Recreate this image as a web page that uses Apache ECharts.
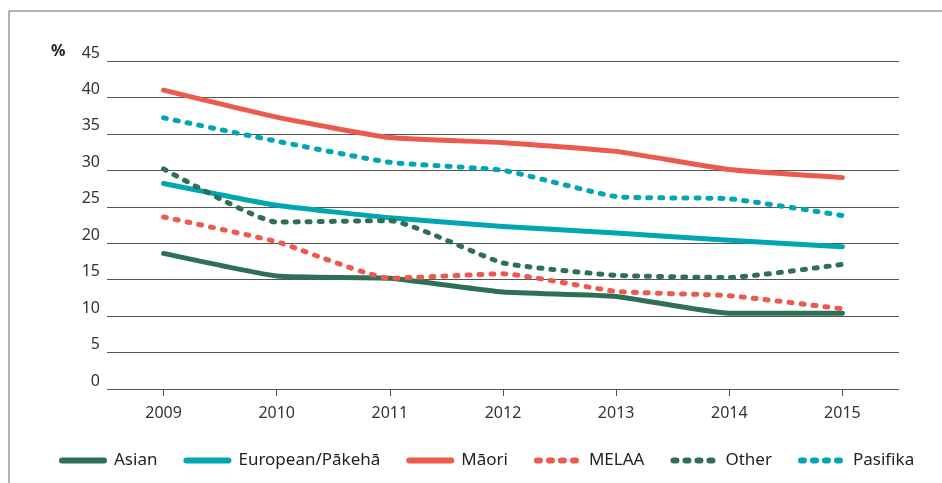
<!DOCTYPE html>
<html>
<head>
<meta charset="utf-8">
<script src="https://cdn.jsdelivr.net/npm/echarts@6/dist/echarts.min.js"></script>
<style>
  html, body { margin: 0; padding: 0; background: #fff; }
  #chart { width: 942px; height: 483px; }
</style>
</head>
<body>
<div id="chart"></div>
<script>
const years = ['2009', '2010', '2011', '2012', '2013', '2014', '2015'];
const asian = [18.6, 15.5, 15.2, 13.3, 12.7, 10.4, 10.4];
const european = [28.2, 25.2, 23.5, 22.3, 21.4, 20.4, 19.5];
const maori = [41.0, 37.3, 34.5, 33.8, 32.6, 30.1, 29.0];
const melaa = [23.6, 20.2, 15.2, 15.8, 13.4, 12.8, 11.0];
const other = [30.2, 22.9, 23.1, 17.3, 15.6, 15.3, 17.1];
const pasifika = [37.2, 34.0, 31.1, 30.0, 26.4, 26.1, 23.8];

const GREEN = '#2f6f56';
const TEAL = '#00a6b2';
const RED = '#ec5a4f';
const FONT = '"Noto Sans", sans-serif';

const chart = echarts.init(document.getElementById('chart'), null, { renderer: 'canvas' });

const mkLine = (name, data, color, dotted) => ({
  name,
  type: 'line',
  data,
  smooth: 0.15,
  symbol: 'none',
  showSymbol: false,
  lineStyle: {
    color,
    width: 5,
    type: dotted ? [3, 9] : 'solid',
    cap: 'round',
    join: 'round',
  },
  itemStyle: { color },
});

const option = {
  animation: false,
  backgroundColor: '#fff',
  textStyle: { fontFamily: FONT },
  grid: { left: 107, right: 43, top: 61, bottom: 94 },
  legend: {
    bottom: 9,
    left: 54,
    itemWidth: 42,
    itemHeight: 10,
    itemGap: 26,
    itemStyle: { opacity: 0 },
    lineStyle: { width: 6, cap: 'round' },
    textStyle: { fontFamily: FONT, fontSize: 17, color: '#222', padding: [0, 0, 0, 5] },
    data: ['Asian', 'European/Pākehā', 'Māori', 'MELAA', 'Other', 'Pasifika'],
  },
  xAxis: {
    type: 'category',
    data: years,
    boundaryGap: true,
    axisLine: { show: false },
    axisTick: { show: true, alignWithLabel: true, length: 7, lineStyle: { color: '#555' } },
    axisLabel: { color: '#333', fontSize: 16, fontFamily: FONT, margin: 16 },
  },
  yAxis: {
    type: 'value',
    min: 0,
    max: 45,
    interval: 5,
    axisLine: { show: false },
    axisTick: { show: false },
    axisLabel: { color: '#333', fontSize: 16, fontFamily: FONT, margin: 7, verticalAlign: 'bottom' },
    splitLine: { lineStyle: { color: '#555', width: 1 } },
  },
  graphic: [
    {
      type: 'text',
      left: 51,
      top: 43,
      style: { text: '%', font: 'bold 16px ' + FONT, fill: '#222' },
    },
    {
      type: 'rect',
      shape: { x: 9, y: 11, width: 960, height: 500 },
      style: { fill: 'none', stroke: '#666', lineWidth: 1 },
      silent: true,
    },
  ],
  series: [
    mkLine('Asian', asian, GREEN, false),
    mkLine('European/Pākehā', european, TEAL, false),
    mkLine('Māori', maori, RED, false),
    mkLine('MELAA', melaa, RED, true),
    mkLine('Other', other, GREEN, true),
    mkLine('Pasifika', pasifika, TEAL, true),
  ],
};

chart.setOption(option);
</script>
</body>
</html>
